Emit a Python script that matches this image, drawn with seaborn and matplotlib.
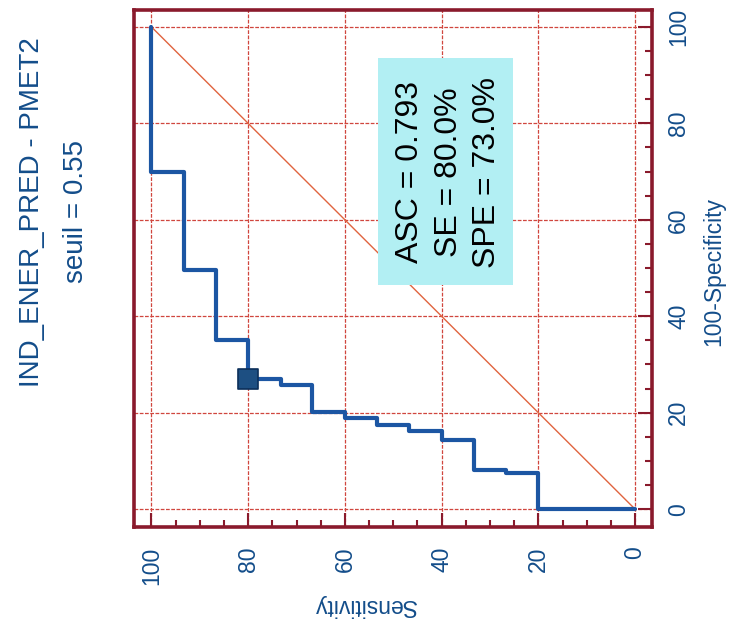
import matplotlib
matplotlib.use("Agg")
import matplotlib.pyplot as plt
from matplotlib.patches import Rectangle
from matplotlib.ticker import MultipleLocator
import seaborn as sns
import pandas as pd

# ---- data ----
title = "IND_ENER_PRED - PMET2"
subtitle = "seuil = 0.55"
sensitivity = [100.0, 93.3, 86.7, 80.0, 73.3, 66.7, 60.0, 53.3, 46.7, 40.0, 33.3, 26.7, 20.0, 0.0]
fpr = [100.0, 70.0, 49.5, 35.0, 27.0, 25.7, 20.2, 19.0, 17.4, 16.2, 14.3, 8.2, 7.4, 0.0]
op_sens = [80.0]
op_fpr = [27.0]
diag = [0, 100]
stats = ["ASC = 0.793", "SE = 80.0%", "SPE = 73.0%"]
ticks = [0, 20, 40, 60, 80, 100]
xlabel = "Sensitivity"
ylabel = "100-Specificity"

# ---- style ----
sns.set_style("white")
plt.rcParams["font.family"] = ["Liberation Sans", "DejaVu Sans"]
TXT = "#134d8a"
CURVE = "#1c56a3"
SPINE = "#8a1a2c"
GRID = "#d0463e"
DIAG = "#e0643f"
BOX = "#b2eff3"

W, H = 743, 634
fig = plt.figure(figsize=(W / 100, H / 100), dpi=100)
fig.patch.set_facecolor("white")
L, R, T, B = 134, 652, 10, 527
ax = fig.add_axes([L / W, 1 - B / H, (R - L) / W, (B - T) / H])

df = pd.DataFrame({"sens": sensitivity, "fpr": fpr})
sns.lineplot(x=diag, y=diag, color=DIAG, lw=1.0, ax=ax, zorder=2)
sns.lineplot(data=df, x="sens", y="fpr", sort=False, estimator=None,
             drawstyle="steps-pre", color=CURVE, lw=3.0, ax=ax, zorder=4)
sns.scatterplot(x=op_sens, y=op_fpr, marker="s", s=190, color="#1d4f82",
                edgecolor="#0b2f5a", linewidth=1.2, ax=ax, zorder=5)

ax.set_xlim(103.6, -3.5)
ax.set_ylim(-3.7, 103.5)
ax.set_xticks(ticks)
ax.set_yticks(ticks)
ax.set_xticklabels([str(t) for t in ticks])
ax.set_yticklabels([str(t) for t in ticks])
ax.xaxis.set_minor_locator(MultipleLocator(5))
ax.yaxis.set_minor_locator(MultipleLocator(5))
ax.yaxis.tick_right()
ax.set_xlabel("")
ax.set_ylabel("")
ax.grid(True, which="major", color=GRID, lw=0.9, ls=(0, (3, 1.2)), zorder=1)

ax.tick_params(axis="x", which="both", direction="in", bottom=True, top=False,
               color=SPINE, width=1.5, labelcolor=TXT, labelsize=16.5,
               labelrotation=90, pad=14)
ax.tick_params(axis="y", which="both", direction="in", right=True, left=False,
               color=SPINE, width=1.5, labelcolor=TXT, labelsize=16.5,
               labelrotation=90, pad=11)
ax.tick_params(which="major", length=10)
ax.tick_params(which="minor", length=5)
for lab in ax.get_yticklabels():
    lab.set_va("center")
    lab.set_ha("left")

for sp in ax.spines.values():
    sp.set_color(SPINE)
    sp.set_linewidth(2.6)
    sp.set_visible(True)

# stats box
ax.add_patch(Rectangle((378 / W, 1 - 285 / H), (513 - 378) / W, (285 - 58) / H,
                       transform=fig.transFigure, facecolor=BOX, edgecolor="none",
                       zorder=3))
for xc, s in zip([410, 449, 487], stats):
    fig.text(xc / W, 1 - 172 / H, s, rotation=90, ha="center", va="center",
             fontsize=23, color="black", zorder=6)

# labels and title
fig.text(364 / W, 1 - 606 / H, xlabel, rotation=180, ha="center", va="center",
         fontsize=16.5, color=TXT)
fig.text(714 / W, 1 - 272 / H, ylabel, rotation=90, ha="center", va="center",
         fontsize=16.5, color=TXT)
fig.text(32 / W, 1 - 212 / H, title, rotation=90, ha="center", va="center",
         fontsize=20, color=TXT)
fig.text(76 / W, 1 - 212 / H, subtitle, rotation=90, ha="center", va="center",
         fontsize=20, color=TXT)

fig.savefig("out.png", dpi=100, facecolor="white")
